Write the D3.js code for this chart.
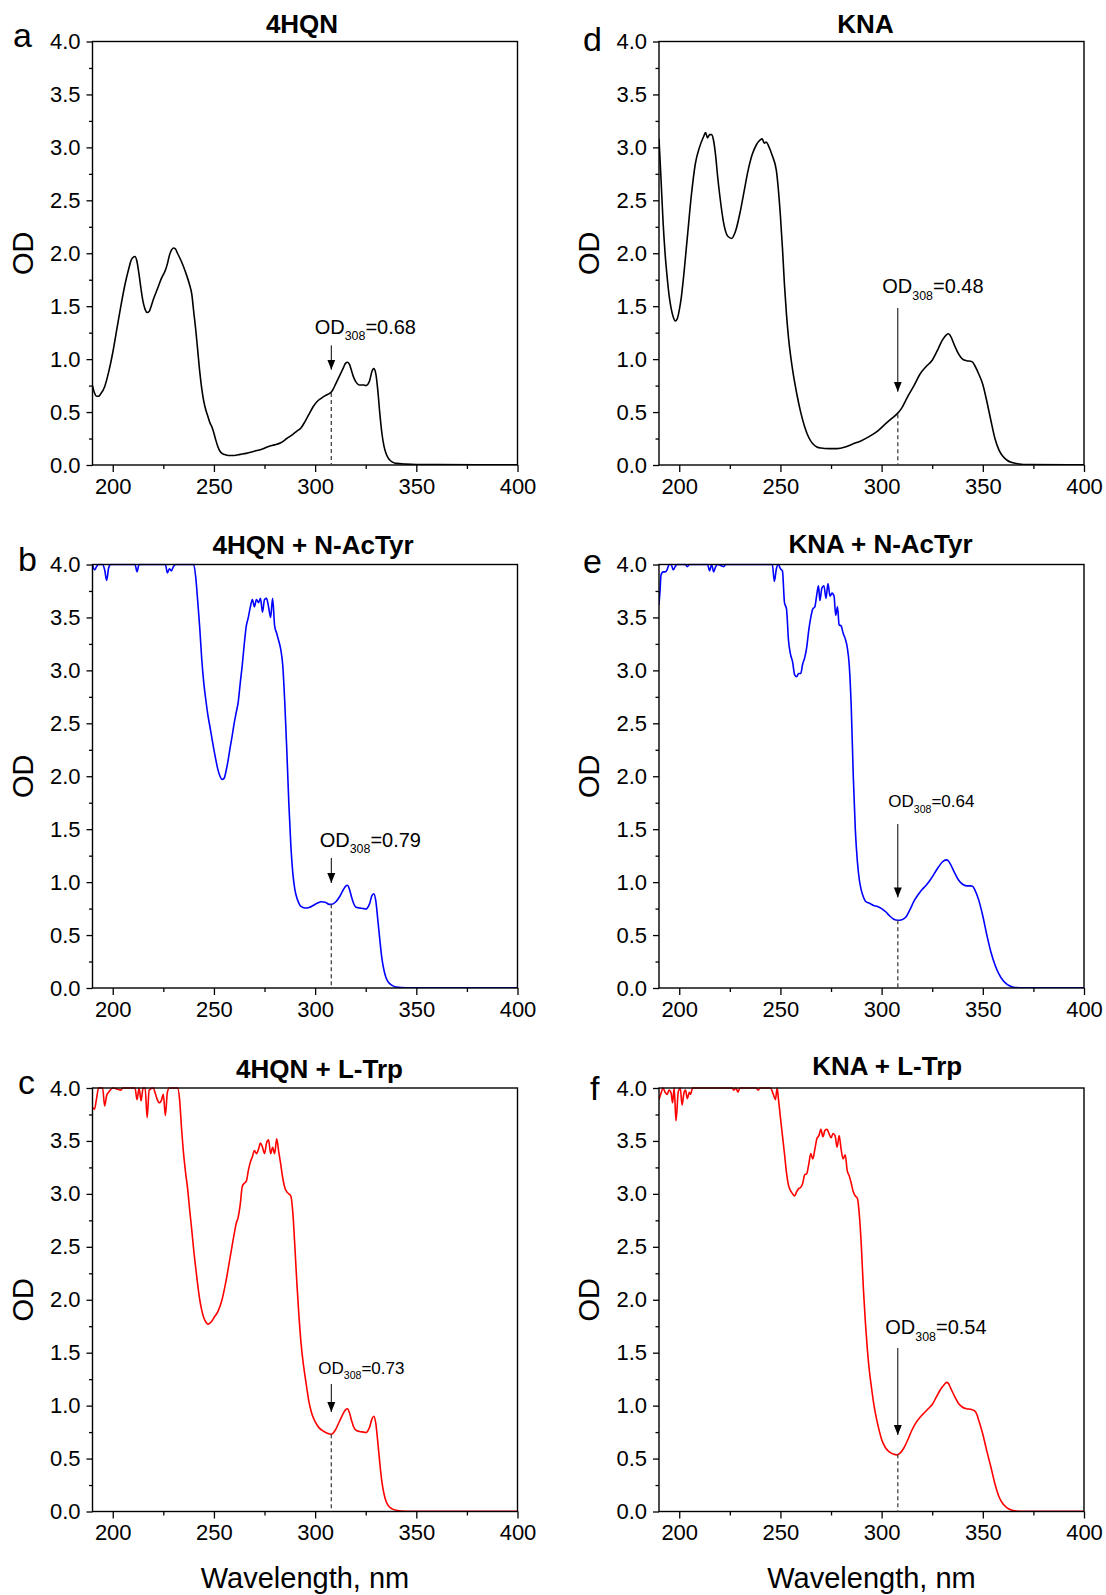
<!DOCTYPE html>
<html><head><meta charset="utf-8">
<script src="https://cdn.jsdelivr.net/npm/d3@7"></script>
<style>
body{margin:0;background:#fff}
svg{display:block}
text{font-family:"Liberation Sans",Arial,Helvetica,sans-serif;fill:#000}
</style>
</head><body>
<svg id="chart" width="1106" height="1595"></svg>
<script>
// ---------- data ----------
const xTicks = [200, 250, 300, 350, 400];
const xMinorTicks = [225, 275, 325, 375];
const yTicks = [0, 0.5, 1.0, 1.5, 2.0, 2.5, 3.0, 3.5, 4.0];
const yMinorTicks = [0.25, 0.75, 1.25, 1.75, 2.25, 2.75, 3.25, 3.75];
const panelLetters = ["a", "b", "c", "d", "e", "f"];
const panelTitles = ["4HQN", "4HQN + N-AcTyr", "4HQN + L-Trp", "KNA", "KNA + N-AcTyr", "KNA + L-Trp"];
const od308Values = [0.68, 0.79, 0.73, 0.48, 0.64, 0.54];
const od308Labels = ["0.68", "0.79", "0.73", "0.48", "0.64", "0.54"];

const spec4HQN = [[190,0.75],[191,0.68],[192,0.65],[193,0.65],[194,0.67],[196,0.74],[198,0.88],[200,1.06],[202,1.28],[204,1.5],[206,1.7],[208,1.86],[209,1.93],[210,1.96],[211,1.97],[212,1.92],[213,1.8],[214,1.66],[215,1.54],[216,1.47],[217,1.44],[218,1.45],[219,1.5],[220,1.56],[222,1.66],[224,1.76],[226,1.84],[227,1.9],[228,1.98],[229,2.03],[230,2.05],[231,2.04],[232,2.0],[234,1.92],[236,1.82],[238,1.7],[239,1.62],[240,1.45],[241,1.28],[242,1.08],[243,0.88],[244,0.72],[245,0.6],[246,0.52],[247,0.46],[248,0.4],[249,0.36],[250,0.3],[251,0.23],[252,0.17],[253,0.13],[254,0.11],[256,0.095],[258,0.09],[260,0.09],[263,0.1],[266,0.11],[270,0.13],[274,0.15],[277,0.175],[280,0.19],[283,0.21],[286,0.25],[289,0.29],[291,0.32],[293,0.35],[295,0.41],[297,0.48],[299,0.55],[301,0.6],[303,0.63],[305,0.655],[307,0.675],[308,0.69],[309,0.72],[310,0.76],[312,0.84],[314,0.92],[315,0.96],[316,0.97],[317,0.95],[318,0.89],[319,0.83],[320,0.79],[321,0.765],[322,0.755],[324,0.755],[325,0.75],[326,0.76],[327,0.8],[328,0.88],[329,0.91],[330,0.86],[331,0.7],[332,0.48],[333,0.3],[334,0.18],[335,0.11],[336,0.07],[337,0.045],[338,0.03],[340,0.015],[345,0.008],[350,0.005],[360,0.004],[380,0.003],[400,0.003]];

const spec4HQN_AcTyr = [[190,4.0],[191,3.95],[192,3.98],[193,4.0],[195,4.0],[196,3.95],[197,3.85],[198,3.97],[199,4.0],[211,4.0],[212,3.93],[213,4.0],[226,4.0],[227,3.92],[228,3.96],[229,3.94],[230,3.98],[231,4.0],[240,4.0],[241,3.88],[242,3.65],[243,3.4],[244,3.1],[245,2.88],[246,2.72],[247,2.58],[248,2.47],[249,2.36],[250,2.25],[251,2.15],[252,2.06],[253,2.0],[254,1.97],[255,1.98],[256,2.05],[257,2.15],[258,2.27],[259,2.38],[260,2.5],[261,2.6],[262,2.7],[263,2.88],[264,3.05],[265,3.25],[266,3.42],[267,3.5],[268,3.6],[269,3.67],[270,3.6],[271,3.67],[272,3.64],[273,3.68],[274,3.55],[275,3.67],[276,3.68],[277,3.6],[278,3.5],[279,3.68],[280,3.42],[281,3.35],[282,3.28],[283,3.2],[284,3.05],[285,2.7],[286,2.25],[287,1.75],[288,1.35],[289,1.08],[290,0.93],[291,0.85],[292,0.8],[293,0.77],[295,0.755],[297,0.76],[299,0.78],[301,0.8],[303,0.815],[305,0.81],[307,0.79],[308,0.79],[310,0.81],[312,0.86],[314,0.93],[315,0.96],[316,0.97],[317,0.93],[318,0.86],[319,0.8],[320,0.765],[322,0.755],[324,0.75],[325,0.745],[326,0.76],[327,0.8],[328,0.87],[329,0.89],[330,0.82],[331,0.64],[332,0.45],[333,0.28],[334,0.17],[335,0.1],[336,0.06],[338,0.025],[340,0.01],[345,0.003],[400,0.002]];

const spec4HQN_Trp = [[190,3.82],[191,3.8],[192,3.9],[193,4.0],[195,4.0],[196,3.83],[197,3.93],[198,3.96],[200,4.0],[204,3.98],[205,4.0],[211,4.0],[212,3.89],[213,4.0],[214,3.88],[215,4.0],[216,4.0],[217,3.72],[218,3.98],[220,4.0],[221,3.95],[222,3.89],[223,3.86],[224,3.88],[225,3.94],[226,3.74],[227,3.96],[228,4.0],[232,4.0],[233,3.9],[234,3.62],[235,3.38],[236,3.2],[237,3.05],[238,2.85],[239,2.67],[240,2.47],[241,2.3],[242,2.14],[243,2.0],[244,1.9],[245,1.83],[246,1.79],[247,1.77],[248,1.78],[249,1.8],[250,1.83],[252,1.89],[254,2.0],[256,2.18],[258,2.4],[260,2.62],[261,2.72],[262,2.78],[263,2.9],[264,3.07],[265,3.1],[266,3.12],[267,3.22],[268,3.3],[269,3.35],[270,3.41],[271,3.38],[272,3.42],[273,3.48],[274,3.44],[275,3.38],[276,3.48],[277,3.51],[278,3.38],[279,3.44],[280,3.38],[281,3.52],[282,3.4],[283,3.28],[284,3.15],[285,3.06],[286,3.02],[287,3.0],[288,2.98],[289,2.82],[290,2.5],[291,2.15],[292,1.85],[293,1.6],[294,1.42],[295,1.28],[296,1.15],[297,1.03],[298,0.95],[299,0.89],[300,0.85],[302,0.79],[304,0.76],[306,0.74],[308,0.73],[310,0.77],[312,0.85],[314,0.93],[315,0.96],[316,0.97],[317,0.93],[318,0.86],[319,0.8],[320,0.77],[322,0.755],[324,0.75],[325,0.745],[326,0.76],[327,0.8],[328,0.87],[329,0.9],[330,0.83],[331,0.65],[332,0.45],[333,0.28],[334,0.17],[335,0.1],[336,0.06],[338,0.025],[340,0.012],[345,0.003],[400,0.002]];

const specKNA = [[190,3.08],[191,2.7],[192,2.3],[193,2.0],[194,1.78],[195,1.6],[196,1.48],[197,1.4],[198,1.36],[199,1.38],[200,1.46],[201,1.58],[202,1.75],[204,2.15],[206,2.55],[208,2.85],[210,3.0],[212,3.1],[213,3.14],[214,3.09],[215,3.12],[216,3.12],[217,3.06],[218,2.92],[219,2.72],[220,2.55],[222,2.28],[224,2.16],[226,2.14],[227,2.17],[228,2.22],[230,2.38],[232,2.58],[234,2.78],[236,2.93],[238,3.02],[240,3.07],[241,3.08],[242,3.04],[243,3.05],[244,3.02],[246,2.92],[248,2.78],[250,2.35],[251,2.05],[252,1.7],[253,1.42],[254,1.2],[256,0.9],[258,0.68],[260,0.5],[262,0.36],[264,0.26],[266,0.2],[268,0.17],[270,0.16],[274,0.155],[278,0.155],[282,0.17],[286,0.2],[290,0.23],[294,0.27],[298,0.32],[302,0.39],[305,0.44],[308,0.49],[310,0.54],[313,0.65],[316,0.75],[319,0.86],[322,0.93],[325,0.99],[328,1.1],[330,1.18],[332,1.23],[333,1.24],[334,1.22],[336,1.13],[338,1.05],[340,1.0],[342,0.985],[344,0.98],[345,0.97],[346,0.94],[348,0.86],[350,0.76],[352,0.6],[354,0.42],[356,0.25],[358,0.14],[360,0.08],[362,0.045],[364,0.025],[368,0.01],[372,0.004],[400,0.002]];

const specKNA_AcTyr = [[190,3.62],[190.5,3.75],[191,3.9],[192,3.93],[193,3.93],[194,3.95],[195,4.0],[196,4.0],[197,3.95],[198,3.98],[199,4.0],[203,4.0],[204,3.98],[205,4.0],[214,4.0],[215,3.94],[216,4.0],[217,3.93],[218,3.98],[219,4.0],[222,3.98],[223,4.0],[246,4.0],[247,3.84],[248,3.96],[249,4.0],[250,3.96],[251,3.94],[252,3.64],[253,3.58],[254,3.28],[255,3.15],[256,3.08],[257,2.96],[258,2.94],[259,2.97],[260,2.97],[261,3.06],[262,3.12],[263,3.22],[264,3.38],[265,3.5],[266,3.58],[267,3.6],[268,3.72],[268.8,3.8],[269.5,3.66],[270.5,3.78],[271.5,3.8],[272.5,3.68],[273.5,3.82],[274.5,3.7],[275.5,3.73],[276.5,3.7],[277.3,3.52],[278.2,3.6],[279,3.43],[280,3.42],[281,3.35],[282,3.3],[283,3.22],[284,3.05],[285,2.65],[286,2.0],[287,1.5],[288,1.2],[289,1.02],[290,0.92],[291,0.86],[292,0.82],[294,0.8],[296,0.78],[298,0.77],[300,0.75],[302,0.72],[304,0.68],[306,0.65],[308,0.64],[310,0.645],[312,0.67],[314,0.74],[316,0.82],[318,0.88],[320,0.93],[322,0.97],[324,1.02],[326,1.08],[328,1.14],[330,1.19],[332,1.21],[333,1.2],[334,1.17],[336,1.09],[338,1.02],[340,0.98],[342,0.965],[344,0.965],[345,0.96],[346,0.93],[348,0.83],[350,0.68],[352,0.5],[354,0.34],[356,0.22],[358,0.13],[360,0.07],[362,0.035],[364,0.015],[366,0.005],[370,0.002],[400,0.001]];

const specKNA_Trp = [[190,3.89],[191,3.95],[192,4.0],[193,3.96],[194,3.94],[195,3.98],[196,3.95],[196.7,3.86],[197.5,4.0],[198.4,3.69],[199.5,3.96],[200.5,4.0],[201.4,3.84],[202.3,3.95],[203.1,3.98],[204,3.9],[205,3.96],[205.6,3.94],[206.6,4.0],[226,4.0],[227,3.98],[228,4.0],[229,3.96],[230,4.0],[238,4.0],[239,3.98],[240,4.0],[245,4.0],[246.5,3.94],[247.5,3.89],[248.4,4.0],[249,3.9],[250,3.72],[251,3.55],[252,3.38],[253,3.2],[254,3.08],[255,3.03],[256,3.0],[257,2.98],[258,3.02],[259,3.05],[260,3.06],[261,3.1],[262,3.18],[263,3.19],[264,3.28],[265,3.38],[266,3.33],[267,3.42],[268,3.52],[269,3.55],[270,3.61],[271,3.54],[272,3.6],[273,3.61],[274,3.57],[275,3.53],[276,3.57],[277,3.55],[278,3.44],[279,3.55],[280,3.42],[281,3.33],[282,3.37],[283,3.22],[284,3.17],[285,3.1],[286,3.02],[287,2.98],[288,2.96],[289,2.8],[290,2.5],[291,2.1],[292,1.78],[293,1.52],[294,1.32],[295,1.17],[296,1.03],[297,0.92],[298,0.83],[299,0.75],[300,0.68],[302,0.6],[304,0.56],[306,0.54],[307.5,0.535],[309,0.55],[311,0.6],[313,0.68],[315,0.77],[317,0.84],[319,0.89],[321,0.93],[323,0.97],[325,1.01],[327,1.08],[329,1.15],[331,1.2],[332,1.22],[333,1.21],[334,1.17],[336,1.09],[338,1.02],[340,0.985],[342,0.97],[344,0.965],[346,0.95],[347,0.92],[348,0.86],[350,0.73],[352,0.57],[354,0.42],[356,0.26],[358,0.14],[360,0.07],[362,0.035],[364,0.015],[366,0.006],[370,0.002],[400,0.001]];

const spectra = [spec4HQN, spec4HQN_AcTyr, spec4HQN_Trp, specKNA, specKNA_AcTyr, specKNA_Trp];
const lineColors = ["#000000", "#0000ff", "#ff0000", "#000000", "#0000ff", "#ff0000"];

// annotation placement in OD units (text baseline, arrow top, arrow tip), x shift of text in px, font size
const annTextOD = [1.24, 1.335, 1.30, 1.625, 1.71, 1.677];
const annArrowTopOD = [1.13, 1.228, 1.204, 1.483, 1.549, 1.544];
const annArrowTipOD = [0.90, 0.992, 0.94, 0.692, 0.855, 0.723];
const annTextShift = [-16.6, -11.6, -13, -15.5, -9.5, -12.5];
const annFontSize = [20, 20, 17, 20, 17, 20];

// ---------- layout ----------
const colLeft = [92.5, 659];
const rowTop = [41.5, 564.5, 1088];
const plotW = 425, plotH = 423.5;
const titleDx = [-3, 8, 14.5, -6, 9, 15.7];
const titleBase = [33, 554, 1078, 33, 553, 1075];
const letterPos = [[13, 46.5], [18, 571], [18, 1094], [583, 51], [583, 573], [590, 1100]];

const svg = d3.select("#chart");
const defs = svg.append("defs");
defs.append("marker").attr("id", "arrowhead")
  .attr("viewBox", "0 0 10 10").attr("refX", 10).attr("refY", 5)
  .attr("markerWidth", 10).attr("markerHeight", 10).attr("markerUnits", "userSpaceOnUse")
  .attr("orient", "auto")
  .append("path").attr("d", "M0,1 L10,5 L0,9 Z").attr("fill", "#000");

spectra.forEach((data, i) => {
  const col = i < 3 ? 0 : 1, row = i % 3;
  const x0 = colLeft[col], y0 = rowTop[row];
  const x = d3.scaleLinear().domain([190, 400]).range([x0, x0 + plotW]);
  const y = d3.scaleLinear().domain([0, 4]).range([y0 + plotH, y0]);

  const g = svg.append("g");
  const clipId = "clip" + i;
  defs.append("clipPath").attr("id", clipId).append("rect")
    .attr("x", x0).attr("y", y0 - 1).attr("width", plotW).attr("height", plotH + 1);

  // axes
  const xAxis = d3.axisBottom(x).tickValues(xTicks).tickSize(7).tickSizeOuter(0).tickPadding(6).tickFormat(d3.format("d"));
  const xAxisMinor = d3.axisBottom(x).tickValues(xMinorTicks).tickSize(4).tickSizeOuter(0).tickFormat("");
  const yAxis = d3.axisLeft(y).tickValues(yTicks).tickSize(6).tickSizeOuter(0).tickPadding(6).tickFormat(d3.format(".1f"));
  const yAxisMinor = d3.axisLeft(y).tickValues(yMinorTicks).tickSize(3.5).tickSizeOuter(0).tickFormat("");

  [xAxis, xAxisMinor].forEach(ax => {
    g.append("g").attr("transform", `translate(0,${y0 + plotH})`).call(ax)
      .call(s => s.select(".domain").remove());
  });
  [yAxis, yAxisMinor].forEach(ax => {
    g.append("g").attr("transform", `translate(${x0},0)`).call(ax)
      .call(s => s.select(".domain").remove());
  });
  g.selectAll(".tick line").attr("stroke", "#000").attr("stroke-width", 1.3);
  g.selectAll(".tick text").attr("font-size", 22).attr("fill", "#000")
    .attr("font-family", '"Liberation Sans", Arial, sans-serif');

  // curve
  const line = d3.line().x(d => x(d[0])).y(d => y(d[1])).curve(d3.curveMonotoneX);
  g.append("path").datum(data).attr("d", line)
    .attr("fill", "none").attr("stroke", lineColors[i]).attr("stroke-width", 1.6)
    .attr("stroke-linejoin", "round").attr("clip-path", `url(#${clipId})`);

  // frame
  g.append("rect").attr("x", x0).attr("y", y0).attr("width", plotW).attr("height", plotH)
    .attr("fill", "none").attr("stroke", "#000").attr("stroke-width", 1.4);

  // annotation
  const ax308 = x(308);
  g.append("line").attr("x1", ax308).attr("x2", ax308)
    .attr("y1", y(od308Values[i])).attr("y2", y(0))
    .attr("stroke", "#444").attr("stroke-width", 1.3).attr("stroke-dasharray", "4,3");
  g.append("line").attr("x1", ax308).attr("x2", ax308)
    .attr("y1", y(annArrowTopOD[i])).attr("y2", y(annArrowTipOD[i]))
    .attr("stroke", "#000").attr("stroke-width", 1).attr("marker-end", "url(#arrowhead)");
  const fs = annFontSize[i];
  const t = g.append("text").attr("x", ax308 + annTextShift[i]).attr("y", y(annTextOD[i]))
    .attr("font-size", fs);
  t.append("tspan").text("OD");
  t.append("tspan").text("308").attr("font-size", fs * 0.62).attr("dy", fs * 0.33);
  t.append("tspan").text("=" + od308Labels[i]).attr("dy", -fs * 0.33);

  // title
  g.append("text").attr("x", x0 + plotW / 2 + titleDx[i]).attr("y", titleBase[i])
    .attr("text-anchor", "middle").attr("font-size", 26).attr("font-weight", "bold")
    .text(panelTitles[i]);

  // panel letter
  g.append("text").attr("x", letterPos[i][0]).attr("y", letterPos[i][1])
    .attr("font-size", 34).text(panelLetters[i]);

  // y label
  const lx = col === 0 ? 23 : 589;
  g.append("text").attr("transform", `translate(${lx},${y0 + plotH / 2}) rotate(-90)`)
    .attr("text-anchor", "middle").attr("dominant-baseline", "central")
    .attr("font-size", 29).text("OD");

  // x label on bottom row
  if (row === 2) {
    g.append("text").attr("x", x0 + plotW / 2).attr("y", 1588)
      .attr("text-anchor", "middle").attr("font-size", 29).text("Wavelength, nm");
  }
});
</script>
</body></html>
